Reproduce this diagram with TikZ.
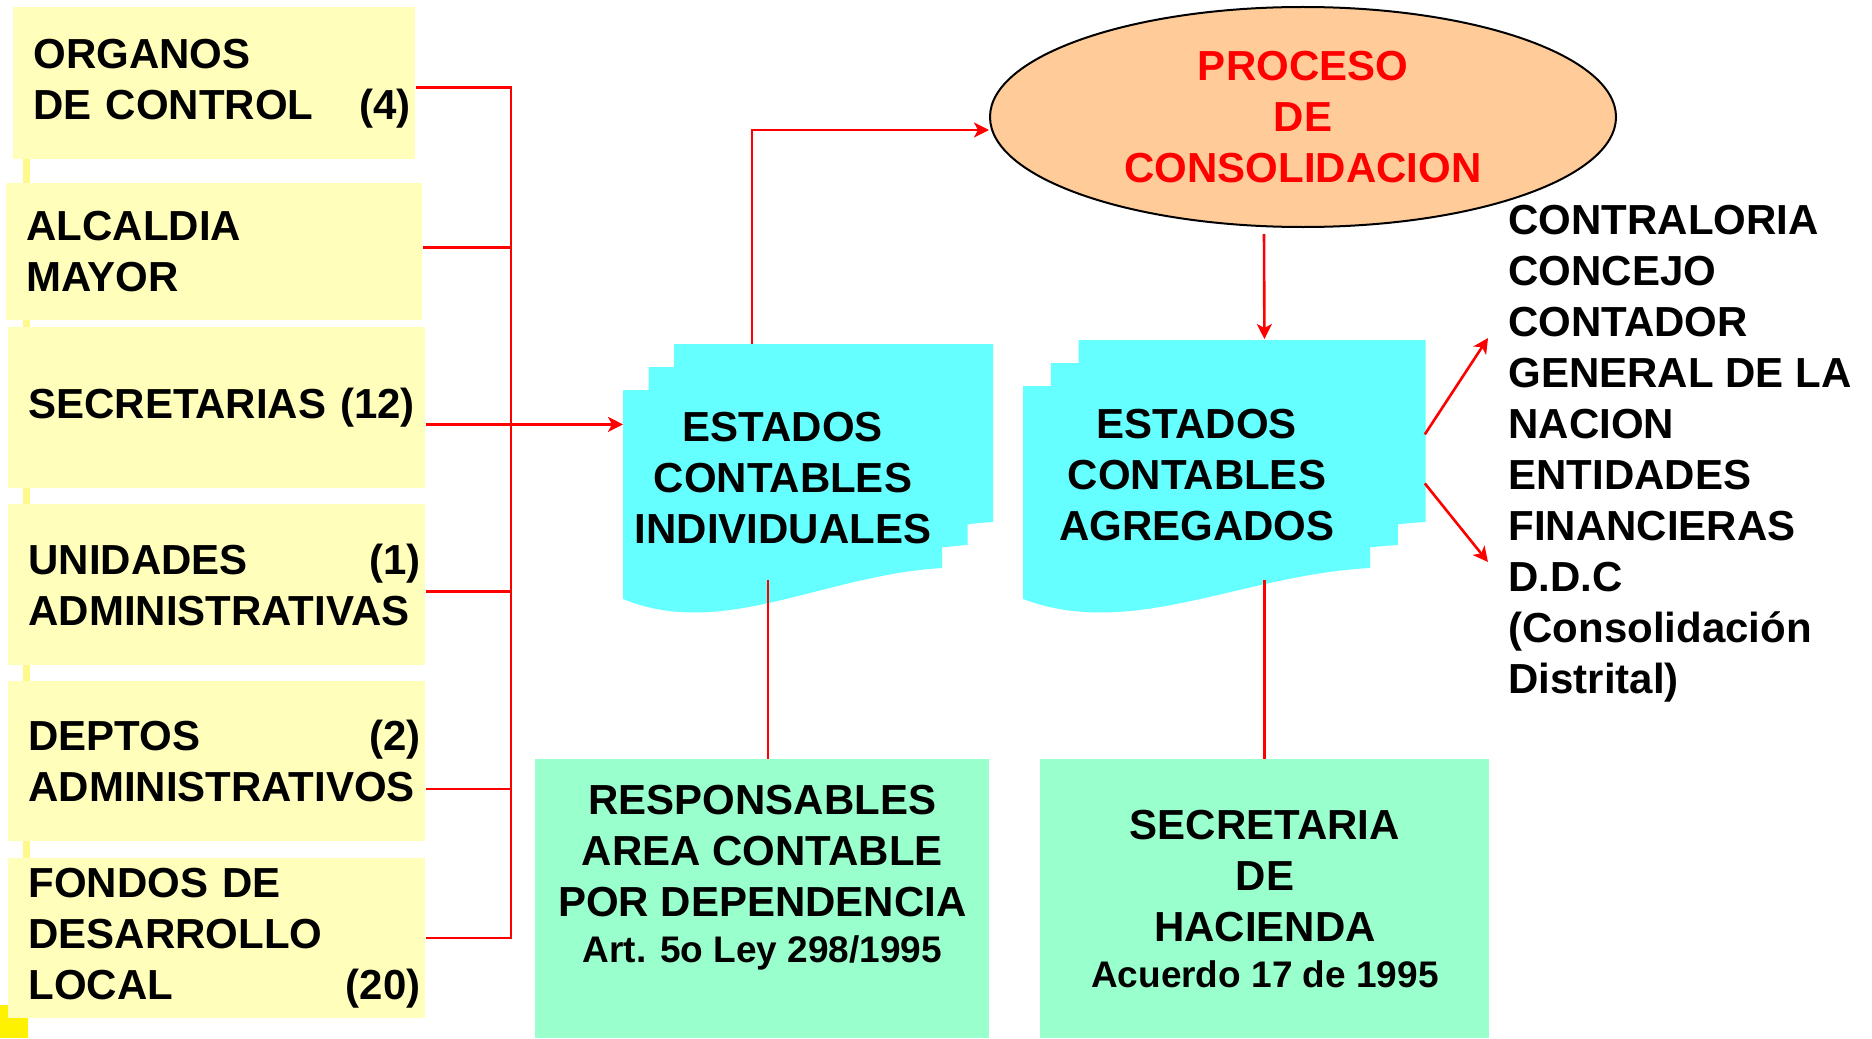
\documentclass[tikz,border=0pt]{standalone}
\usepackage{fontspec}
\setmainfont{Liberation Sans}
\usetikzlibrary{shapes,
                arrows.meta,
                positioning}

\definecolor{amarillo}{HTML}{FFFFBB}
\definecolor{cian}{HTML}{66FFFF}
\definecolor{verde}{HTML}{99FFCC}
\definecolor{salmon}{HTML}{FFCC99}

\newcommand{\grande}{\fontsize{21pt}{25.5pt}\selectfont\bfseries}
\newcommand{\chica}{\fontsize{18.5pt}{22pt}\selectfont\bfseries}

\pgfdeclarelayer{background}
\pgfsetlayers{background,main}

% pila de tres hojas detras de un nodo: nodo, ancho, alto
\newcommand{\pila}[3]{%
  \begin{scope}[shift={(#1.north west)}]
    \foreach \dx/\dy in {0.16/-46, 0.08/-23, 0/0}
      \fill[cian] ({\dx*#2},\dy) -- ++(#2,0) -- ++(0,#3)
        .. controls ({(\dx+0.627)*#2},{\dy+#3+7}) and ({(\dx+0.313)*#2},{\dy+#3+72})
        .. ({\dx*#2},{\dy+#3+31}) -- cycle;
  \end{scope}}

\tikzset{entidad/.style =
   {fill=amarillo,
    anchor=north west,
    align=left,
    inner xsep=2.5pt,
    inner ysep=0pt,
    font=\grande,
    execute at begin node={\leftskip=7.5pt\relax}}}
\tikzset{hoja/.style =
   {anchor=north west,
    align=center,
    inner sep=0pt,
    font=\grande}}
\tikzset{norma/.style =
   {fill=verde,
    anchor=north west,
    align=center,
    inner sep=0pt,
    font=\grande}}
\tikzset{linea/.style = {draw, red, line width=1.3pt}}
\tikzset{flecha/.style = {linea, -{Stealth[length=7.5pt, width=7.5pt, inset=2pt]}}}

\begin{document}
\begin{tikzpicture}[x=0.5pt, y=-0.5pt]

    \useasboundingbox (0,0) rectangle (1872,1038);

    \fill [yellow!45] (23,150) rectangle (30,1010);
    \fill [yellow] (0,1005) rectangle (28,1038);

    \node [entidad,
           text width=196pt,
           minimum height=76pt] (organos) at (13,7)
          {ORGANOS\\DE CONTROL\hfill(4)};

    \node [entidad,
           text width=203pt,
           minimum height=68.5pt] (alcaldia) at (6,183)
          {ALCALDIA\\MAYOR};

    \node [entidad,
           text width=203.5pt,
           minimum height=80.5pt] (secret) at (8,327)
          {SECRETARIAS (12)};

    \node [entidad,
           text width=203.5pt,
           minimum height=80.5pt,
           below=7.5pt of secret.south west,
           anchor=north west] (unidades)
          {UNIDADES\hfill(1)\\ADMINISTRATIVAS};

    \node [entidad,
           text width=203.5pt,
           minimum height=80pt,
           below=7.5pt of unidades.south west,
           anchor=north west] (deptos)
          {DEPTOS\hfill(2)\\ADMINISTRATIVOS};

    \node [entidad,
           text width=203.5pt,
           minimum height=80pt,
           below=8pt of deptos.south west,
           anchor=north west] (fondos)
          {FONDOS DE\\DESARROLLO\\LOCAL\hfill(20)};

    \coordinate (tronco) at (511,0);

    \node [hoja,
           minimum width=159.5pt,
           minimum height=88pt] (indiv) at (623,390)
          {ESTADOS\\CONTABLES\\INDIVIDUALES};

    \node [hoja,
           minimum width=173.5pt,
           minimum height=88.5pt] (agreg) at (1023,386)
          {ESTADOS\\CONTABLES\\AGREGADOS};

    \begin{pgfonlayer}{background}
      \pila{indiv}{319}{178}
      \pila{agreg}{347}{182}
    \end{pgfonlayer}

    \node [ellipse,
           draw=black,
           line width=1pt,
           fill=salmon,
           text=red,
           font=\grande,
           align=center,
           inner sep=0pt,
           minimum width=313pt,
           minimum height=110pt] (proceso) at (1303,117)
          {PROCESO\\DE\\CONSOLIDACION};

    \node [norma,
           minimum width=227pt,
           minimum height=139.5pt] (resp) at (535,759)
          {RESPONSABLES\\AREA CONTABLE\\POR DEPENDENCIA\\[-2.5pt]%
           {\chica Art. 5o Ley 298/1995}\\};

    \node [norma,
           minimum width=224.5pt,
           minimum height=139.5pt] (haci) at (1040,759)
          {SECRETARIA\\DE\\HACIENDA\\[-2.5pt]{\chica Acuerdo 17 de 1995}};

    \node [anchor=north west,
           align=left,
           inner sep=0pt,
           font=\grande] (destino) at (1508,205)
          {CONTRALORIA\\CONCEJO\\CONTADOR\\GENERAL DE LA\\NACION\\ENTIDADES\\%
           FINANCIERAS\\D.D.C\\(Consolidación\\Distrital)};

    % dependencias hacia el tronco
    \draw [linea] ([yshift=-2pt]organos.east) -- ([yshift=-2pt]organos.east -| tronco)
                  -- (fondos.east -| tronco) -- (fondos.east);
    \draw [linea] ([yshift=2.25pt]alcaldia.east) -- ([yshift=2.25pt]alcaldia.east -| tronco);
    \draw [linea] ([yshift=-3.25pt]unidades.east) -- ([yshift=-3.25pt]unidades.east -| tronco);
    \draw [linea] ([yshift=-14pt]deptos.east) -- ([yshift=-14pt]deptos.east -| tronco);
    \draw [flecha] ([yshift=-8.25pt]secret.east) -- ([yshift=-8.25pt]secret.east -| indiv.west);

    \draw [flecha] ([xshift=-15.5pt, yshift=23pt]indiv.north) |- ([yshift=-6.5pt]proceso.west);
    \draw [flecha] ([xshift=-19.5pt, yshift=-3pt]proceso.south)
                   -- ([xshift=33.75pt, yshift=23.5pt]agreg.north);

    \draw [linea] ([xshift=-7.5pt, yshift=-6.5pt]indiv.south)
                  -- ([xshift=-7.5pt]indiv.south |- resp.north);
    \draw [linea] ([xshift=33.75pt, yshift=-8pt]agreg.south)
                  -- ([xshift=33.75pt]agreg.south |- haci.north);

    \draw [flecha] ([xshift=27pt, yshift=20.25pt]agreg.east)
                   -- ([xshift=-10pt, yshift=-66.5pt]destino.north west);
    \draw [flecha] ([xshift=27pt, yshift=-4.25pt]agreg.east)
                   -- ([xshift=-10pt, yshift=-178.5pt]destino.north west);

\end{tikzpicture}
\end{document}
